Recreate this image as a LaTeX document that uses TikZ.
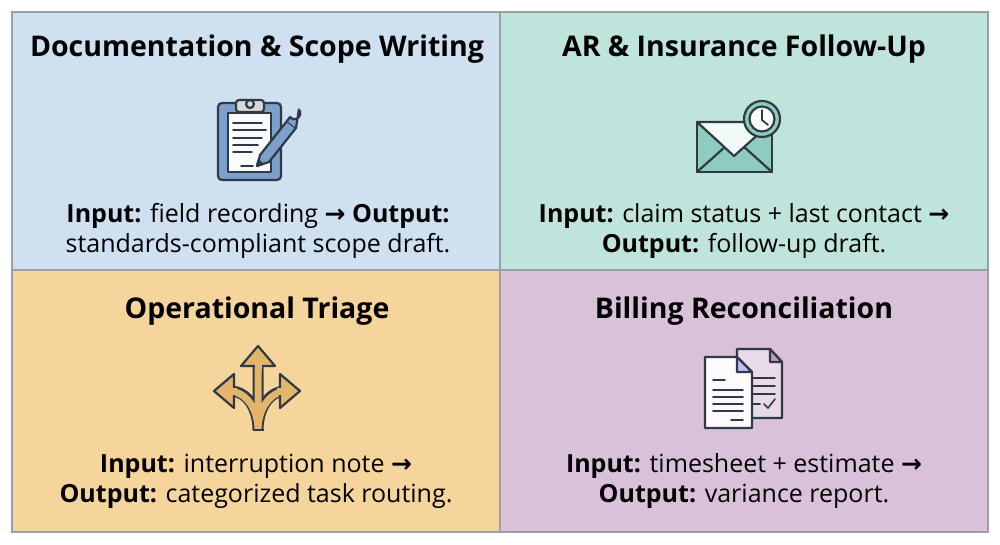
\documentclass[tikz,border=0pt]{standalone}
\usepackage{fontspec}
\setmainfont{Open Sans}
\newfontfamily\symf{DejaVu Sans}
\begin{document}
\begin{tikzpicture}[x=1pt,y=-1pt,
  ttl/.style={font=\bfseries\fontsize{28.5}{30}\selectfont, text=black},
  body/.style={font=\fontsize{25}{30}\selectfont, align=center, text=black},
  ic/.style={draw=icd, line width=2.2pt, line join=round, line cap=round}]
\definecolor{blueP}{HTML}{CFE0F0}\definecolor{mintP}{HTML}{BFE4DB}
\definecolor{orP}{HTML}{F5D59B}\definecolor{purP}{HTML}{D9C1DA}
\definecolor{icd}{HTML}{2F3A45}\definecolor{bord}{HTML}{9AA0A6}
\definecolor{clipB}{HTML}{7D9FCB}\definecolor{envT}{HTML}{8ECCC0}
\definecolor{arrO}{HTML}{E2B46C}\definecolor{docP}{HTML}{B99BC4}
\useasboundingbox (0,0) rectangle (1000,545);
\fill[white] (0,0) rectangle (1000,545);
\fill[blueP] (12,12) rectangle (500,270);
\fill[mintP] (500,12) rectangle (988,270);
\fill[orP] (12,270) rectangle (500,532);
\fill[purP] (500,270) rectangle (988,532);
\draw[bord,line width=1.2pt] (12,12) rectangle (988,532) (500,12)--(500,532) (12,270)--(988,270);
\newcommand\arr{{\symf\bfseries\char"2192}}
\node[ttl] (t1) at (257,49) {Documentation \& Scope Writing};
\node[ttl] (t2) at (744,49) {AR \& Insurance Follow-Up};
\node[ttl] (t3) at (257,311) {Operational Triage};
\node[ttl] (t4) at (744,311) {Billing Reconciliation};
\node[body] (b1) at (258,231) {\textbf{Input:} field recording \arr{} \textbf{Output:}\\standards-compliant scope draft.};
\node[body] (b2) at (744,231) {\textbf{Input:} claim status + last contact \arr\\\textbf{Output:} follow-up draft.};
\node[body] (b3) at (256,481) {\textbf{Input:} interruption note \arr\\\textbf{Output:} categorized task routing.};
\node[body] (b4) at (744,481) {\textbf{Input:} timesheet + estimate \arr\\\textbf{Output:} variance report.};
% clipboard
\draw[ic, fill=clipB, rounded corners=4] (218,103) rectangle (281,180);
\draw[ic, fill=white!88!blueP] (228,113) rectangle (271,172);
\draw[ic, fill=gray!30, rounded corners=3] (236,112) -- (236,100) -- (264,100) -- (264,112) -- cycle;
\draw[ic, fill=gray!30] (250,104) circle (4);
\foreach \y/\w in {123/262,130/266,138/262,145/258,152/252}{\draw[ic,line width=1.6pt] (233,\y)--(\w,\y);}
\draw[ic,line width=1.6pt] (241,166)--(253,166);
\draw[ic, fill=clipB] (257,166) -- (260,155) -- (287,121) -- (296,128) -- (269,162) -- cycle;
\draw[ic, fill=clipB] (287,121) -- (290,117) arc (140:-40:5.8) -- (296,128);
\draw[ic, fill=icd] (257,166) -- (258.5,160.5) -- (262.5,164) -- cycle;
% envelope
\draw[ic, fill=envT] (697,122) rectangle (772,172);
\draw[ic] (697,172) -- (726,146) (772,172) -- (743,146);
\draw[ic, fill=white!80!mintP] (697,122) -- (734,156) -- (772,122) -- cycle;
\draw[ic, fill=envT] (762,119) circle (18);
\draw[ic, fill=white!90!mintP] (762,119) circle (12.5);
\draw[ic, line width=1.8pt] (762,110) -- (762,120) -- (768,125);
% arrows
\draw[icd, line width=11pt, line join=round] (258,430) -- (258,360) (258,430) to[out=90,in=0] (230,391) (258,430) to[out=90,in=180] (286,391);
\draw[arrO, line width=7pt, line join=round] (258,430) -- (258,358) (258,430) to[out=90,in=0] (228,391) (258,430) to[out=90,in=180] (288,391);
\draw[ic, fill=arrO] (258,346) -- (275,366) -- (241,366) -- cycle;
\draw[ic, fill=arrO] (214,391) -- (234,374) -- (234,408) -- cycle;
\draw[ic, fill=arrO] (300,391) -- (280,374) -- (280,408) -- cycle;
\draw[arrO, line width=7pt] (258,371)--(258,362) (237,391)--(230,391) (277,391)--(284,391);
\draw[icd, line width=2.2pt] (252.5,430)--(263.5,430);
% documents
\draw[ic, fill=purP!60!white] (737,349) -- (770,349) -- (782,362) -- (782,418) -- (737,418) -- cycle;
\draw[ic, fill=docP] (770,349) -- (770,362) -- (782,362) -- cycle;
\foreach \y in {378,386,394}{\draw[ic,line width=1.6pt] (753,\y)--(775,\y);}
\draw[ic,line width=1.6pt] (753,404)--(760,404) (764,404)--(768,408)--(775,399);
\draw[ic, fill=white!92!purP] (705,357) -- (737,357) -- (752,372) -- (752,428) -- (705,428) -- cycle;
\draw[ic, fill=blue!25!white] (737,357) -- (737,372) -- (752,372) -- cycle;
\draw[ic,line width=1.6pt] (713,380)--(725,380);
\foreach \y in {390,397,404,411}{\draw[ic,line width=1.6pt] (713,\y)--(743,\y);}
\draw[ic,line width=1.6pt] (731,420)--(743,420);
\end{tikzpicture}
\end{document}
